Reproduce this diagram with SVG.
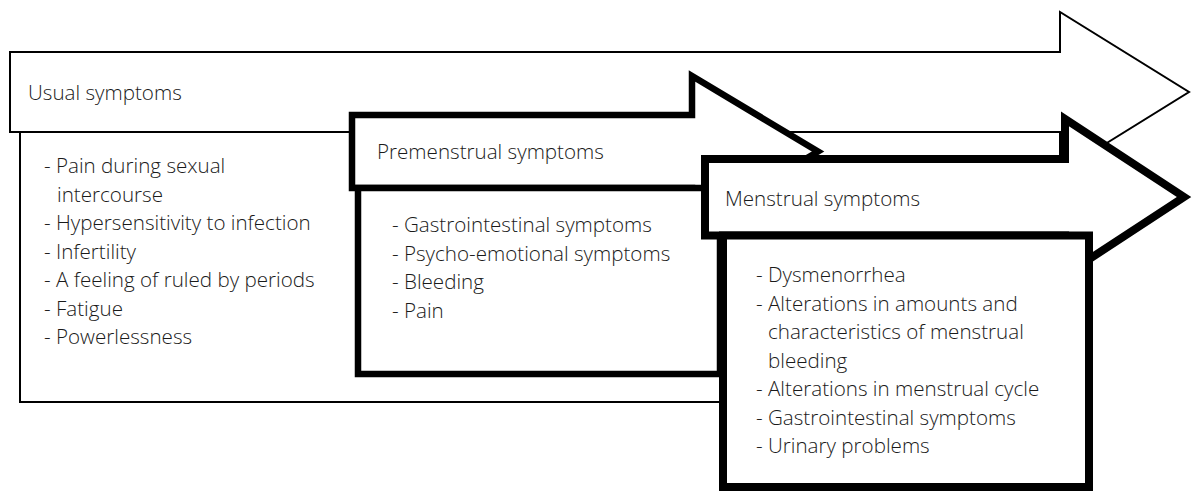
<svg xmlns="http://www.w3.org/2000/svg" width="1192" height="495" viewBox="0 0 1192 495">
<style>
.shape{fill:#fff;stroke:#000;stroke-linejoin:miter;stroke-miterlimit:10}
.thin{stroke-width:2}
.mid{stroke-width:6.5}
.thick{stroke-width:8}
text{font-family:"Open Sans","Noto Sans",sans-serif;font-size:20.6px;font-weight:300;fill:#1a1a1a}
</style>
<rect width="1192" height="495" fill="#fff"/>
<g id="usual">
<path class="shape thin" d="M10,52 H1060 V12 L1189,92 L1060,172 V132 H10 Z"/>
<rect class="shape thin" x="20" y="132" width="702" height="270"/>
<text x="28" y="100">Usual symptoms</text>
<text x="44" y="173">- Pain during sexual</text>
<text x="57" y="201.5">intercourse</text>
<text x="44" y="230">- Hypersensitivity to infection</text>
<text x="44" y="258.5">- Infertility</text>
<text x="44" y="287">- A feeling of ruled by periods</text>
<text x="44" y="315.5">- Fatigue</text>
<text x="44" y="344">- Powerlessness</text>
</g>
<g id="premenstrual">
<path class="shape mid" d="M352,115 H692 V76 L818,151.5 L692,227 V188 H352 Z"/>
<rect class="shape mid" x="358" y="188" width="362" height="186"/>
<text x="377" y="159">Premenstrual symptoms</text>
<text x="392" y="232">- Gastrointestinal symptoms</text>
<text x="392" y="260.5">- Psycho-emotional symptoms</text>
<text x="392" y="289">- Bleeding</text>
<text x="392" y="317.5">- Pain</text>
</g>
<g id="menstrual">
<path class="shape thick" d="M705,159 H1065 V119 L1184,197 L1065,275 V235.5 H705 Z"/>
<rect class="shape thick" x="723" y="235.5" width="366" height="251.5"/>
<text x="725" y="206">Menstrual symptoms</text>
<text x="756" y="282">- Dysmenorrhea</text>
<text x="756" y="310.5">- Alterations in amounts and</text>
<text x="768" y="339">characteristics of menstrual</text>
<text x="768" y="367.5">bleeding</text>
<text x="756" y="396">- Alterations in menstrual cycle</text>
<text x="756" y="424.5">- Gastrointestinal symptoms</text>
<text x="756" y="453">- Urinary problems</text>
</g>
<g id="connectors"/>
</svg>
